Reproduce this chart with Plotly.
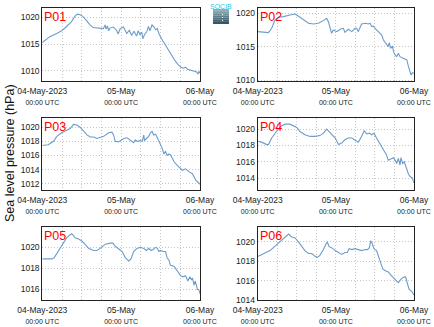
import plotly.graph_objects as go

# Hours since 04-May-2023 00:00 UTC and sea level pressure (hPa) at each station
p01_hours = [0.0, 1.3, 2.3, 4.4, 5.9, 7.4, 8.9, 9.9, 10.7, 11.5, 12.3, 13.5, 14.5, 15.5, 17.5, 18.6,
             19.1, 19.4, 19.8, 20.2, 20.6, 21.6, 22.6, 23.1, 23.7, 24.7, 25.7, 26.5, 27.2, 27.9, 28.7,
             29.2, 29.7, 30.3, 30.6, 31.2, 31.8, 32.3, 32.8, 33.4, 34.0, 34.5, 35.0, 35.6, 36.3, 37.4,
             38.4, 39.4, 40.4, 41.4, 42.4, 43.1, 43.6, 44.2, 45.2, 46.2, 47.0, 47.4, 47.7, 48.0]
p01_slp = [1015.3, 1015.9, 1016.4, 1017.0, 1017.5, 1018.3, 1019.2, 1020.2, 1020.6, 1020.5, 1020.2,
           1019.4, 1018.6, 1018.1, 1018.0, 1017.9, 1018.6, 1017.8, 1018.4, 1017.5, 1018.0, 1018.2,
           1017.6, 1016.9, 1017.9, 1018.2, 1017.0, 1017.6, 1016.6, 1017.4, 1016.5, 1017.5, 1016.8,
           1017.2, 1016.0, 1016.9, 1017.3, 1018.3, 1017.5, 1018.6, 1018.2, 1017.7, 1017.9, 1016.8,
           1016.0, 1014.9, 1013.9, 1012.8, 1011.9, 1011.1, 1010.6, 1010.5, 1010.7, 1010.3, 1010.1,
           1010.0, 1009.8, 1009.4, 1009.9, 1009.6]

p02_hours = [0.0, 1.7, 3.3, 4.3, 5.3, 6.3, 7.9, 9.9, 11.5, 13.0, 14.5, 15.6, 17.1, 18.6, 20.2, 21.2,
             21.7, 22.2, 22.7, 23.2, 24.3, 25.3, 26.3, 26.8, 27.8, 28.9, 29.9, 30.4, 30.9, 31.9, 33.0,
             34.0, 34.5, 35.0, 35.5, 36.5, 37.6, 38.1, 38.6, 39.1, 39.6, 40.1, 40.4, 40.8, 41.4, 41.7,
             42.2, 42.7, 43.2, 43.7, 44.7, 45.8, 46.3, 46.8, 47.1, 47.5, 48.0]
p02_slp = [1017.25, 1017.15, 1017.1, 1017.75, 1019.0, 1019.4, 1019.5, 1019.75, 1019.9, 1019.4,
           1018.9, 1018.5, 1018.4, 1018.5, 1018.9, 1019.25, 1018.75, 1018.0, 1017.0, 1017.5,
           1017.25, 1017.6, 1017.75, 1017.15, 1017.6, 1017.25, 1017.75, 1017.75, 1017.25, 1018.4,
           1018.5, 1018.4, 1018.5, 1018.0, 1018.1, 1017.5, 1017.0, 1016.75, 1016.0, 1015.6,
           1015.35, 1015.0, 1015.6, 1014.75, 1015.1, 1014.25, 1013.75, 1013.5, 1014.0, 1013.5,
           1013.25, 1013.0, 1012.0, 1011.25, 1010.75, 1011.1, 1011.0]

p03_hours = [0.0, 1.8, 3.4, 4.4, 5.9, 7.4, 8.5, 9.5, 10.5, 11.5, 12.5, 13.6, 14.6, 15.6, 16.6, 17.6,
             18.7, 20.2, 21.2, 21.7, 22.2, 23.2, 24.8, 25.8, 26.8, 27.8, 28.3, 28.8, 29.9, 30.4, 30.9,
             31.1, 31.9, 32.4, 32.9, 33.4, 33.9, 34.5, 35.0, 35.5, 36.0, 36.5, 37.0, 37.5, 38.0, 38.5,
             39.0, 39.6, 40.1, 41.1, 41.6, 42.6, 43.6, 44.6, 45.7, 46.2, 46.7, 47.4, 48.0]
p03_slp = [1017.4, 1017.5, 1018.0, 1018.7, 1019.2, 1019.5, 1019.8, 1020.4, 1020.3, 1020.0, 1019.5,
           1018.9, 1018.6, 1018.6, 1018.4, 1018.5, 1018.7, 1019.2, 1019.3, 1018.9, 1018.0, 1017.9,
           1018.4, 1018.5, 1018.2, 1017.8, 1018.2, 1018.0, 1018.1, 1018.0, 1018.9, 1018.1, 1018.5,
           1018.7, 1019.2, 1019.4, 1018.9, 1019.0, 1018.5, 1018.0, 1017.5, 1017.0, 1016.2, 1016.6,
           1016.0, 1016.2, 1016.1, 1015.6, 1015.1, 1014.6, 1014.4, 1013.9, 1014.1, 1013.7, 1013.4,
           1013.0, 1012.5, 1012.2, 1011.9]

p04_hours = [0.0, 1.2, 2.8, 3.3, 4.3, 5.3, 6.3, 7.4, 8.4, 9.9, 11.0, 12.0, 13.0, 14.5, 16.1, 17.6,
             19.1, 20.2, 21.2, 21.7, 22.7, 23.8, 24.8, 25.8, 26.8, 27.8, 28.9, 29.9, 30.9, 31.9, 32.7,
             33.5, 34.3, 35.0, 35.7, 36.5, 37.6, 38.6, 39.6, 40.1, 41.1, 41.7, 42.2, 42.7, 43.2, 43.7,
             44.0, 44.5, 45.0, 45.8, 46.3, 46.8, 47.5, 48.0]
p04_slp = [1018.5, 1018.4, 1018.1, 1018.1, 1018.9, 1019.5, 1020.0, 1020.4, 1020.6, 1020.6, 1020.4,
           1020.2, 1019.7, 1019.3, 1019.1, 1019.1, 1019.2, 1019.5, 1020.0, 1019.8, 1019.3, 1018.9,
           1018.1, 1018.3, 1018.7, 1018.9, 1018.9, 1018.7, 1018.4, 1019.1, 1019.8, 1019.4, 1019.5,
           1019.3, 1019.5, 1018.9, 1018.1, 1017.4, 1016.8, 1016.2, 1016.4, 1016.5, 1016.2, 1015.8,
           1016.4, 1015.6, 1016.5, 1015.8, 1016.0, 1015.0, 1014.5, 1014.2, 1014.0, 1013.4]

p05_hours = [0.0, 1.3, 2.9, 3.6, 4.4, 5.4, 6.4, 7.4, 8.5, 9.0, 9.5, 10.0, 11.0, 12.0, 13.0, 14.1,
             15.6, 16.6, 17.6, 19.2, 20.7, 21.5, 22.2, 23.2, 24.3, 25.3, 26.3, 27.0, 27.8, 28.8, 29.9,
             30.9, 31.7, 32.4, 33.1, 33.7, 34.5, 35.0, 35.5, 36.0, 36.8, 37.5, 38.0, 38.5, 39.0, 40.1,
             41.1, 42.1, 42.9, 43.6, 44.3, 44.9, 45.4, 45.7, 46.2, 46.5, 46.9, 47.2, 47.6, 48.0]
p05_slp = [1018.9, 1018.9, 1018.9, 1019.0, 1019.4, 1019.8, 1020.4, 1020.9, 1021.2, 1021.3, 1021.1,
           1020.9, 1020.8, 1020.6, 1020.3, 1019.9, 1019.7, 1019.7, 1019.9, 1020.3, 1020.4, 1020.4,
           1020.1, 1019.9, 1019.6, 1019.0, 1018.7, 1018.9, 1019.6, 1019.9, 1020.0, 1019.9, 1019.7,
           1019.9, 1019.7, 1019.8, 1020.0, 1019.9, 1019.6, 1019.7, 1019.6, 1019.6, 1019.0, 1018.8,
           1018.3, 1018.2, 1017.7, 1017.3, 1017.2, 1017.3, 1016.8, 1017.2, 1016.9, 1017.1, 1016.4,
           1016.8, 1016.4, 1016.0, 1016.0, 1015.6]

p06_hours = [0.0, 1.2, 2.3, 3.3, 3.8, 4.8, 5.8, 6.9, 7.9, 8.9, 9.5, 10.4, 11.5, 12.5, 13.5, 14.5,
             15.6, 16.6, 17.6, 18.3, 19.1, 20.2, 21.0, 21.4, 21.9, 22.7, 23.8, 24.8, 25.8, 26.8, 27.5,
             28.1, 28.9, 29.9, 30.9, 31.9, 33.0, 33.7, 34.3, 34.7, 35.2, 35.7, 36.5, 37.1, 37.6, 38.4,
             39.4, 40.1, 41.1, 42.2, 43.2, 43.9, 44.5, 45.4, 45.9, 46.5, 47.3, 48.0]
p06_slp = [1018.5, 1018.7, 1018.9, 1019.0, 1019.1, 1019.4, 1019.7, 1020.0, 1020.3, 1020.6, 1020.8,
           1020.5, 1020.4, 1020.0, 1019.5, 1019.1, 1018.8, 1018.8, 1018.5, 1018.4, 1018.6, 1019.2,
           1019.8, 1020.0, 1019.5, 1019.4, 1019.1, 1018.9, 1018.7, 1018.9, 1018.9, 1019.3, 1019.2,
           1019.3, 1019.2, 1019.1, 1019.2, 1019.2, 1019.4, 1020.1, 1019.8, 1019.3, 1019.1, 1018.5,
           1017.8, 1017.2, 1017.0, 1016.9, 1016.5, 1016.1, 1015.8, 1016.1, 1016.3, 1016.4, 1015.9,
           1015.1, 1014.9, 1014.5]

stations = ["P01", "P02", "P03", "P04", "P05", "P06"]
hours = [p01_hours, p02_hours, p03_hours, p04_hours, p05_hours, p06_hours]
slp = [p01_slp, p02_slp, p03_slp, p04_slp, p05_slp, p06_slp]
y_ranges = [[1008.1, 1021.7], [1009.85, 1020.75], [1011.1, 1021.3],
            [1012.55, 1021.35], [1015.0, 1021.9], [1014.0, 1021.5]]
y_steps = [5, 5, 2, 2, 2, 2]

x_tickvals = [0, 24, 48]
x_ticktext = ["04-May-2023", "05-May", "06-May"]
y_title = "Sea level pressure (hPa)"

W, H = 434, 327
col_px = [(42.3, 200), (257.7, 414)]
row_px = [(8.3, 81), (118, 190), (227.3, 300)]

LINE = "rgb(108,156,204)"
GRID = "#c6c6c6"
GRID_DASH = "1px,2px"
FONT = "Liberation Sans, Arial, sans-serif"

fig = go.Figure()
sub = "<br><span style='font-size:7px'>00:00 UTC</span>"

for i, name in enumerate(stations):
    r, c = divmod(i, 2)
    n = "" if i == 0 else str(i + 1)
    x0, x1 = col_px[c]
    yt, yb = row_px[r]
    fig.add_trace(go.Scatter(
        x=hours[i], y=slp[i], mode="lines",
        line=dict(color=LINE, width=1.1),
        xaxis="x" + n, yaxis="y" + n, showlegend=False, hoverinfo="skip"))
    fig.layout["xaxis" + n] = dict(
        domain=[x0 / W, x1 / W], anchor="y" + n, range=[0, 48], automargin=False,
        tickvals=x_tickvals, ticktext=[t + sub for t in x_ticktext],
        tickfont=dict(family=FONT, size=8.5, color="#222"), ticklabelstandoff=2,
        showgrid=True, gridcolor=GRID, griddash=GRID_DASH, gridwidth=1,
        minor=dict(dtick=6, tick0=0, showgrid=True, gridcolor=GRID, griddash=GRID_DASH, gridwidth=1),
        showline=True, linecolor="#222", linewidth=1, mirror=True,
        ticks="", zeroline=False, fixedrange=True)
    fig.layout["yaxis" + n] = dict(
        domain=[1 - yb / H, 1 - yt / H], anchor="x" + n, range=y_ranges[i], automargin=False,
        dtick=y_steps[i], tick0=1000,
        tickfont=dict(family=FONT, size=8.5, color="#222"),
        showgrid=True, gridcolor=GRID, griddash=GRID_DASH, gridwidth=1,
        showline=True, linecolor="#222", linewidth=1, mirror=True,
        ticks="", zeroline=False, fixedrange=True)
    fig.add_annotation(
        text=name, xref="x" + n + " domain", yref="y" + n + " domain",
        x=0, y=1, xanchor="left", yanchor="top", xshift=0, yshift=0,
        showarrow=False, font=dict(family=FONT, size=12.5, color="red"))

fig.add_annotation(
    text=y_title, xref="paper", yref="paper", x=10 / W, y=1 - 153 / H,
    xanchor="center", yanchor="middle",
    textangle=-90, showarrow=False, font=dict(family=FONT, size=12.5, color="#111"))

# Small SOCIB badge between the top panels
badge_x0, badge_x1 = 213 / W, 229 / W
shades = ["#8fb0ba", "#7e9fa9", "#6d8e99", "#5c7e89", "#4d6f7a", "#41626d", "#365561"]
top_px, bot_px = 9.0, 24.0
step = (bot_px - top_px) / len(shades)
for k, col in enumerate(shades):
    fig.add_shape(type="rect", xref="paper", yref="paper",
                  x0=badge_x0, x1=badge_x1,
                  y0=1 - (top_px + (k + 1) * step) / H, y1=1 - (top_px + k * step) / H,
                  fillcolor=col, line=dict(width=0), layer="above")
fig.add_shape(type="line", xref="paper", yref="paper",
              x0=222.5 / W, x1=222.5 / W, y0=1 - 21 / H, y1=1 - 12 / H,
              line=dict(color="white", width=1, dash="1px,2px"), layer="above")
fig.add_annotation(text="SOCIB", xref="paper", yref="paper", x=221 / W, y=1 - 6 / H,
                   xanchor="center", yanchor="middle",
                   showarrow=False, font=dict(family=FONT, size=7, color="#35c3dc"))

fig.update_layout(template="none", width=W, height=H, margin=dict(l=0, r=0, t=0, b=0),
                  paper_bgcolor="white", plot_bgcolor="white",
                  font=dict(family=FONT))

fig.write_html("out.html")
